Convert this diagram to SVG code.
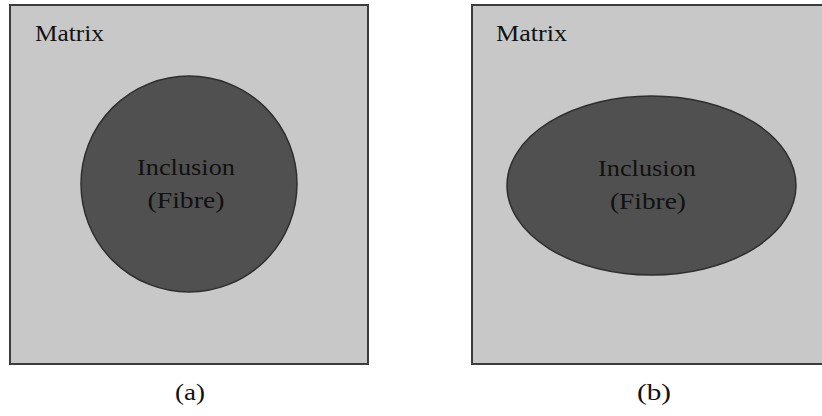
<svg xmlns="http://www.w3.org/2000/svg" width="822" height="416" viewBox="0 0 822 416">
<style>
.panel{fill:#c8c8c8;stroke:#3c3c3c;stroke-width:2}
.incl{fill:#505050;stroke:#2e2e2e;stroke-width:1.5}
.t{font-family:"Liberation Serif","DejaVu Serif",serif;font-size:24px;fill:#111}
.m{text-anchor:middle}
</style>
<rect width="822" height="416" fill="#ffffff"/>
<g id="panel-a">
<rect class="panel" x="10" y="5" width="358" height="359"/>
<text class="t" x="35" y="41" textLength="69" lengthAdjust="spacingAndGlyphs">Matrix</text>
</g>
<g id="inclusion-a">
<ellipse class="incl" cx="189" cy="184" rx="108" ry="108"/>
<text class="t m" x="186" y="175" textLength="98" lengthAdjust="spacingAndGlyphs">Inclusion</text>
<text class="t m" x="186" y="208" textLength="77" lengthAdjust="spacingAndGlyphs">(Fibre)</text>
</g>
<g id="panel-b">
<rect class="panel" x="472" y="5" width="360" height="359"/>
<text class="t" x="496" y="41" textLength="71" lengthAdjust="spacingAndGlyphs">Matrix</text>
</g>
<g id="inclusion-b">
<ellipse class="incl" cx="651.5" cy="185.5" rx="144.5" ry="89.5"/>
<text class="t m" x="647" y="176" textLength="98" lengthAdjust="spacingAndGlyphs">Inclusion</text>
<text class="t m" x="648" y="209" textLength="76" lengthAdjust="spacingAndGlyphs">(Fibre)</text>
</g>
<g id="labels">
<text class="t m" x="190" y="400" textLength="30" lengthAdjust="spacingAndGlyphs">(a)</text>
<text class="t m" x="654" y="400" textLength="34" lengthAdjust="spacingAndGlyphs">(b)</text>
</g>
<g id="connectors"></g>
</svg>
